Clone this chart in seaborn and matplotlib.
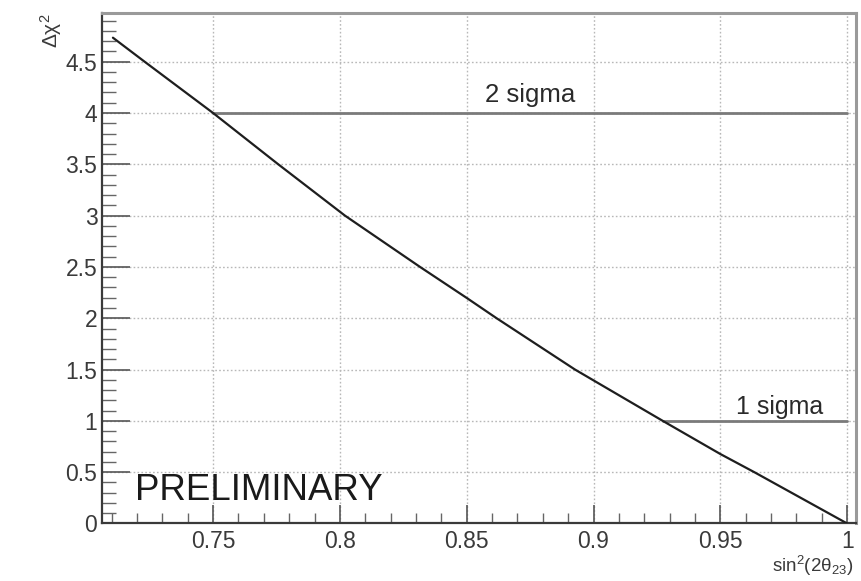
import matplotlib
matplotlib.use("Agg")
import matplotlib.pyplot as plt
from matplotlib.ticker import MultipleLocator, FuncFormatter
import seaborn as sns
import pandas as pd

# Delta chi-square profile versus sin^2(2 theta_23)
sin2_vals = [0.7105, 0.7230, 0.7500, 0.7757, 0.8020, 0.8316, 0.8500, 0.8618, 0.8927, 0.9273, 0.9500, 0.9634, 1.0000]
dchi2_vals = [4.734, 4.50, 4.00, 3.50, 3.00, 2.50, 2.198, 2.00, 1.50, 1.00, 0.677, 0.50, 0.00]

# Confidence-level reference lines: (label, level, x start, x end)
sigma_labels = ["2 sigma", "1 sigma"]
sigma_levels = [4.0, 1.0]
sigma_x0 = [0.7500, 0.9273]
sigma_x1 = [1.0, 1.0]

x_ticks = [0.75, 0.8, 0.85, 0.9, 0.95, 1.0]
y_ticks = [0, 0.5, 1, 1.5, 2, 2.5, 3, 3.5, 4, 4.5]

sns.set_style("white")
plt.rcParams["font.family"] = ["Liberation Sans", "DejaVu Sans"]
plt.rcParams["mathtext.fontset"] = "custom"
plt.rcParams["mathtext.rm"] = "Liberation Sans"
plt.rcParams["mathtext.it"] = "Liberation Sans:italic"
plt.rcParams["mathtext.default"] = "regular"

fig = plt.figure(figsize=(8.61, 5.81), dpi=100)
ax = fig.add_axes([0.1179, 0.0990, 0.8763, 0.8778])

curve = pd.DataFrame({"x": sin2_vals, "y": dchi2_vals})
sns.lineplot(data=curve, x="x", y="y", ax=ax, color="#1e1e1e", linewidth=1.6,
             sort=False, zorder=4)

for lab, lev, x0, x1 in zip(sigma_labels, sigma_levels, sigma_x0, sigma_x1):
    seg = pd.DataFrame({"x": [x0, x1], "y": [lev, lev]})
    sns.lineplot(data=seg, x="x", y="y", ax=ax, color="#7a7a7a", linewidth=2.0, zorder=3)

ax.text(0.875, 4.106, sigma_labels[0], ha="center", va="baseline", fontsize=18.5, color="#2a2a2a")
ax.text(0.9735, 1.07, sigma_labels[1], ha="center", va="baseline", fontsize=18, color="#2a2a2a")
ax.text(0.7192, 0.32, "PRELIMINARY", ha="left", va="center", fontsize=26.4, color="#1a1a1a")

ax.set_xlim(0.706, 1.0035)
ax.set_ylim(0, 4.97)
ax.set_xticks(x_ticks)
ax.set_yticks(y_ticks)
ax.xaxis.set_minor_locator(MultipleLocator(0.01))
ax.yaxis.set_minor_locator(MultipleLocator(0.1))
fmt = FuncFormatter(lambda v, p: f"{v:g}")
ax.xaxis.set_major_formatter(fmt)
ax.yaxis.set_major_formatter(fmt)

ax.tick_params(which="both", bottom=True, left=True, top=False, right=False)
ax.tick_params(axis="x", which="major", direction="in", length=13, width=1.2,
               color="#555555", labelsize=16.5, labelcolor="#3a3a3a", pad=5)
ax.tick_params(axis="x", which="minor", direction="in", length=7, width=1.0, color="#666666")
ax.tick_params(axis="y", which="major", direction="in", length=20, width=1.2,
               color="#555555", labelsize=16.5, labelcolor="#3a3a3a", pad=3)
ax.tick_params(axis="y", which="minor", direction="in", length=10, width=1.0, color="#666666")

ax.grid(True, which="major", linestyle=(0, (1.2, 1.6)), color="#b8b8b8", linewidth=1.0)

for side in ["left", "bottom"]:
    ax.spines[side].set_color("#3a3a3a")
    ax.spines[side].set_linewidth(1.6)
for side in ["top", "right"]:
    ax.spines[side].set_color("#9a9a9a")
    ax.spines[side].set_linewidth(2.2)

ax.set_xlabel(r"sin$^{2}$(2$\theta_{23}$)", fontsize=13.5, color="#3a3a3a")
ax.xaxis.set_label_coords(0.997, -0.060)
ax.xaxis.label.set_horizontalalignment("right")
ax.xaxis.label.set_verticalalignment("top")
ax.set_ylabel(r"$\Delta\chi^{2}$", fontsize=15, color="#3a3a3a")
ax.yaxis.set_label_coords(-0.084, 1.0)
ax.yaxis.label.set_verticalalignment("top")
ax.yaxis.label.set_horizontalalignment("right")

fig.savefig("out.png", dpi=100)
